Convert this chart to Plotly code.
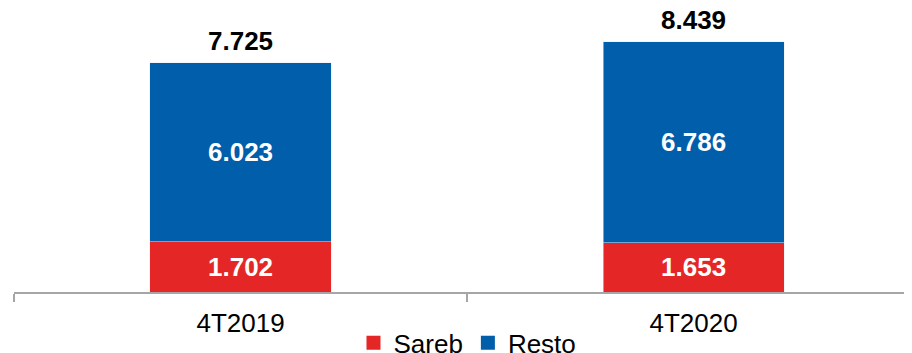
import plotly.graph_objects as go

categories = ["4T2019", "4T2020"]
sareb = [1702, 1653]
resto = [6023, 6786]
totals = [a + b for a, b in zip(sareb, resto)]

RED = "#E42726"
BLUE = "#005EAB"
FONT = "Liberation Sans, Arial, sans-serif"
FS = 26


def fmt(v):
    return f"{v:,}".replace(",", ".")


fig = go.Figure()
for name, vals, col in [("Sareb", sareb, RED), ("Resto", resto, BLUE)]:
    fig.add_trace(go.Bar(
        name=name, x=categories, y=vals, marker_color=col, showlegend=False,
        text=[fmt(v) for v in vals], textposition="inside", insidetextanchor="middle",
        textangle=0, textfont=dict(color="white", size=FS, family=FONT, weight="bold"),
    ))
    # legend entry with a larger square swatch
    fig.add_trace(go.Scatter(
        name=name, x=[None], y=[None], mode="markers",
        marker=dict(symbol="square", size=14, color=col), showlegend=True,
    ))

for c, t in zip(categories, totals):
    fig.add_annotation(x=c, y=t, text=fmt(t), showarrow=False, yanchor="bottom",
                       yshift=5, font=dict(color="black", size=FS, family=FONT, weight="bold"))

# page body has an 8px default margin: figure sized to fit the window exactly
fig.update_layout(
    width=904, height=345,
    margin=dict(l=6, r=0, t=2, b=61, autoexpand=False),
    barmode="stack", bargap=0.6,
    plot_bgcolor="white", paper_bgcolor="white",
    font=dict(family=FONT, size=FS, color="black"),
    legend=dict(orientation="h", x=0.505, xanchor="center", y=-0.18, yanchor="middle",
                font=dict(size=FS, family=FONT), itemwidth=30, traceorder="normal"),
    showlegend=True,
)
fig.update_xaxes(
    type="category", range=[-0.5, 1.482], showline=True, linecolor="#A6A6A6", linewidth=1.5,
    ticks="outside", tickson="boundaries", ticklen=8, tickcolor="#A6A6A6", tickwidth=1.5,
    tickfont=dict(size=FS, family=FONT, color="black"), showgrid=False,
    ticklabelstandoff=7, automargin=False,
)
fig.update_yaxes(range=[0, 9510], visible=False, showgrid=False, zeroline=False, automargin=False)

fig.write_html("out.html")
